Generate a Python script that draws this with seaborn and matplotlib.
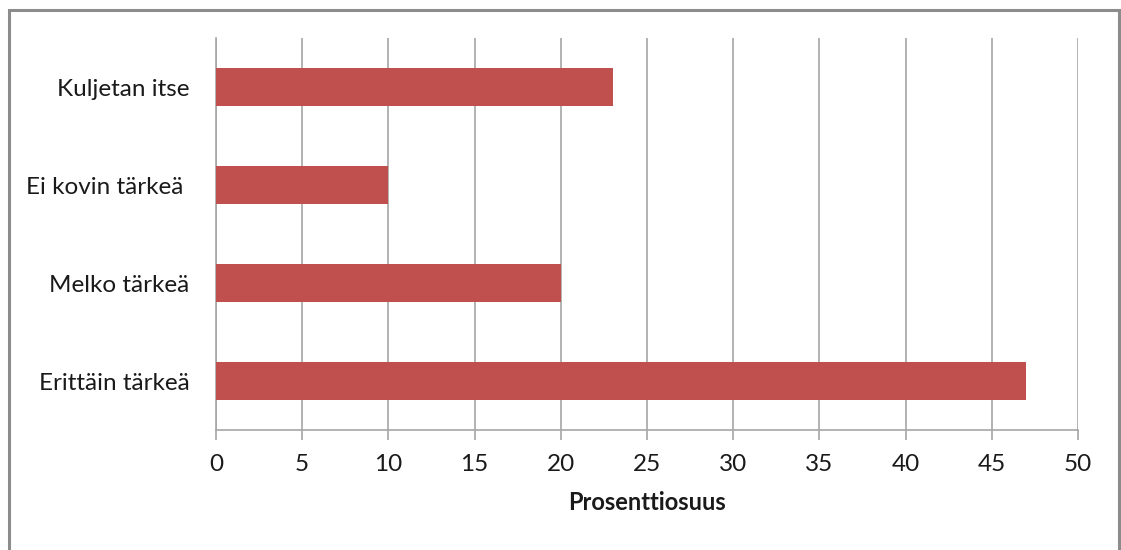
import matplotlib
matplotlib.use("Agg")
import matplotlib.pyplot as plt
from matplotlib.patches import Rectangle
import seaborn as sns
import pandas as pd

categories = ["Kuljetan itse", "Ei kovin tärkeä ", "Melko tärkeä", "Erittäin tärkeä"]
values = [23, 10, 20, 47]
x_ticks = [0, 5, 10, 15, 20, 25, 30, 35, 40, 45, 50]
x_label = "Prosenttiosuus"

sns.set_theme(style="white")
plt.rcParams["font.family"] = ["Lato", "DejaVu Sans"]

df = pd.DataFrame({"kategoria": categories, "arvo": values})

fig = plt.figure(figsize=(11.21, 5.5), dpi=100)
ax = fig.add_axes([216 / 1121, 1 - 430 / 550, (1078 - 216) / 1121, (430 - 38) / 550])

sns.barplot(data=df, x="arvo", y="kategoria", orient="h", color="#C0504D",
            saturation=1, width=0.39, linewidth=0, ax=ax, zorder=3)

ax.set_xlim(0, 50)
ax.set_ylim(3.5, -0.5)
ax.set_xticks(x_ticks)
ax.set_xticklabels([str(t) for t in x_ticks])
ax.grid(axis="x", color="#A6A6A6", linewidth=1.2, zorder=0)
ax.grid(axis="y", visible=False)

for side in ["top", "right"]:
    ax.spines[side].set_visible(False)
for side in ["left", "bottom"]:
    ax.spines[side].set_color("#A6A6A6")
    ax.spines[side].set_linewidth(1.2)

ax.tick_params(axis="x", length=7, width=1.2, color="#A6A6A6", pad=10,
               labelsize=17.5, labelcolor="#1a1a1a", bottom=True)
ax.tick_params(axis="y", length=0, pad=19, labelsize=17.5, labelcolor="#1a1a1a")
ax.set_ylabel("")
ax.set_xlabel(x_label, fontsize=17, fontweight="bold", color="#1a1a1a", labelpad=12)

# outer chart frame
fig.patches.append(Rectangle((9 / 1121, -0.05), (1119 - 9) / 1121, 1.05 - 10 / 550,
                             transform=fig.transFigure, fill=False,
                             edgecolor="#8C8C8C", linewidth=2.2))

fig.savefig("out.png", dpi=100, facecolor="white")
